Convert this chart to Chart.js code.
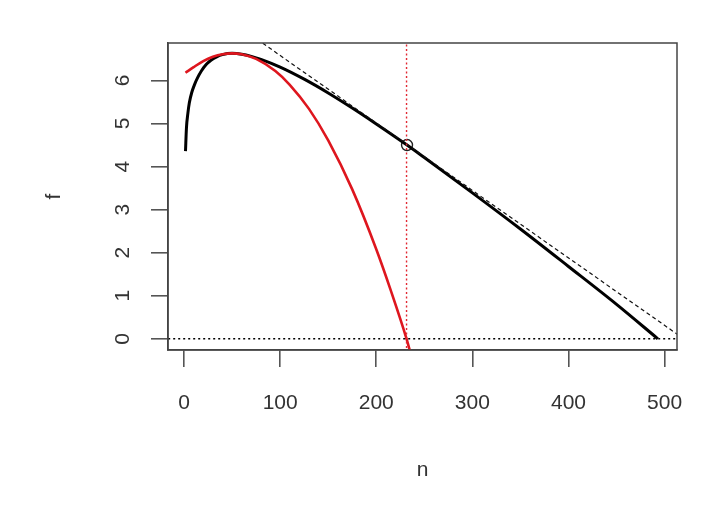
<!DOCTYPE html>
<html>
<head>
<meta charset="utf-8">
<script src="https://cdn.jsdelivr.net/npm/chart.js@4.4.1/dist/chart.umd.min.js"></script>
<style>
  html, body { margin: 0; padding: 0; background: #fff; }
  #wrap { width: 720px; height: 518px; }
</style>
</head>
<body>
<div id="wrap"><canvas id="grafico" width="720" height="518"></canvas></div>
<script>
// --- Datos ---
const nCurva = [1.5, 2.5, 4, 5.5, 8, 11, 14, 18, 23, 28, 34, 40, 50, 60, 70, 80, 100, 125, 150, 175, 200, 232, 250, 300, 350, 400, 450, 493];
const fCurva = [4.36, 4.90, 5.24, 5.48, 5.72, 5.91, 6.06, 6.22, 6.37, 6.47, 6.55, 6.60, 6.63, 6.61, 6.56, 6.49, 6.31, 6.03, 5.71, 5.36, 4.99, 4.50, 4.21, 3.39, 2.55, 1.68, 0.80, 0.0];

const nAprox = [1.5, 10, 20, 30, 40, 50, 60, 75, 95, 110, 130, 150, 175, 200, 215, 231.5, 236];
const fAprox = [6.18, 6.31, 6.45, 6.55, 6.61, 6.63, 6.61, 6.50, 6.22, 5.90, 5.34, 4.61, 3.47, 2.08, 1.13, 0.0, -0.36];

// tangente (extremos extendidos, se recortan en el area)
const nTangente = [70, 525];
const fTangente = [7.05, -0.08];

const nPunto = 232;
const fPunto = 4.5;
const nCorte = 231.5;

const xTicks = [0, 100, 200, 300, 400, 500];
const yTicks = [0, 1, 2, 3, 4, 5, 6];
const xRango = [-16.7, 512.9];
const yRango = [-0.26, 6.87];

const pares = (xs, ys) => xs.map((x, i) => ({ x: x, y: ys[i] }));

const fuente = { family: "'Liberation Sans', Arial, sans-serif", size: 21 };
const gris = '#333';

// caja alrededor del area de trazado (estilo R)
const caja = {
  id: 'caja',
  afterDatasetsDraw(chart) {
    const a = chart.chartArea;
    const ctx = chart.ctx;
    ctx.save();
    ctx.strokeStyle = '#444';
    ctx.lineWidth = 1.5;
    ctx.strokeRect(a.left, a.top, a.right - a.left, a.bottom - a.top);
    ctx.restore();
  }
};

new Chart(document.getElementById('grafico'), {
  type: 'scatter',
  data: {
    datasets: [
      {
        data: pares([xRango[0] - 5, xRango[1] + 5], [0, 0]),
        showLine: true, borderColor: '#000', borderWidth: 1.6,
        borderDash: [2, 3], pointRadius: 0
      },
      {
        data: pares([nCorte, nCorte], [yRango[0] - 1, yRango[1] + 1]),
        showLine: true, borderColor: 'rgb(225,40,50)', borderWidth: 1.4,
        borderDash: [2, 2.5], pointRadius: 0
      },
      {
        data: pares(nTangente, fTangente),
        showLine: true, borderColor: '#111', borderWidth: 1.2,
        borderDash: [4, 3], pointRadius: 0
      },
      {
        data: pares(nAprox, fAprox),
        showLine: true, borderColor: 'rgb(222,22,30)', borderWidth: 2.6,
        pointRadius: 0, cubicInterpolationMode: 'monotone'
      },
      {
        data: pares(nCurva, fCurva),
        showLine: true, borderColor: '#000', borderWidth: 3,
        pointRadius: 0, cubicInterpolationMode: 'monotone'
      },
      {
        data: [{ x: nPunto, y: fPunto }],
        showLine: false, pointRadius: 5.5, pointStyle: 'circle',
        pointBorderColor: '#222', pointBackgroundColor: 'rgba(0,0,0,0)',
        pointBorderWidth: 1.4
      }
    ]
  },
  options: {
    responsive: false,
    animation: false,
    devicePixelRatio: 1,
    layout: { padding: { top: 43, right: 43, left: 0, bottom: 0 } },
    plugins: { legend: { display: false }, tooltip: { enabled: false } },
    scales: {
      x: {
        type: 'linear',
        min: xRango[0], max: xRango[1],
        afterBuildTicks: s => { s.ticks = xTicks.map(v => ({ value: v })); },
        afterFit: s => { s.height = 168; },
        grid: { display: true, drawOnChartArea: false, drawTicks: true, tickLength: 17, color: '#555', lineWidth: 1.6 },
        border: { display: true, color: '#444', width: 1.5 },
        ticks: { font: fuente, color: gris, padding: 24, maxRotation: 0, minRotation: 0 },
        title: { display: true, text: 'n', font: fuente, color: gris, padding: { top: 0, bottom: 35 } }
      },
      y: {
        type: 'linear',
        min: yRango[0], max: yRango[1],
        afterBuildTicks: s => { s.ticks = yTicks.map(v => ({ value: v })); },
        afterFit: s => { s.width = 168; },
        grid: { display: true, drawOnChartArea: false, drawTicks: true, tickLength: 17, color: '#555', lineWidth: 1.6 },
        border: { display: true, color: '#444', width: 1.5 },
        ticks: { font: fuente, color: gris, padding: 22, minRotation: 90, maxRotation: 90, crossAlign: 'center' },
        title: { display: true, text: 'f', font: fuente, color: gris, padding: { top: 42, bottom: 0 } }
      }
    }
  },
  plugins: [caja]
});
</script>
</body>
</html>
